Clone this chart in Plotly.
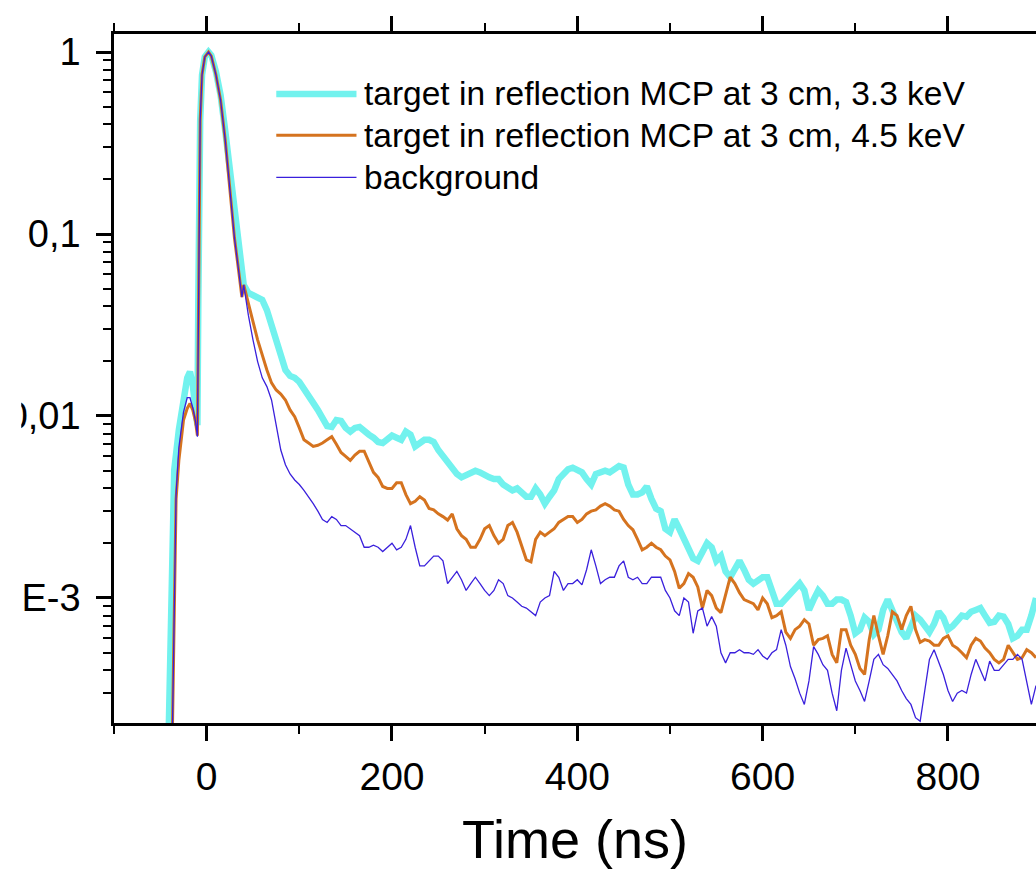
import plotly.graph_objects as go

# time axis (ns): rising edge / peak part, then the tail sampled every 5 ns
t_head_cyan = [-41, -39, -37, -35, -30, -25, -21, -18, -15, -12, -10, -9, -8, -7, -5, -2, 2, 5,
               10, 15, 20, 25, 30, 35]
t_head_other = [-37, -35, -33, -30, -25, -21, -18, -15, -12, -10, -9, -8, -7, -5, -2, 2, 5,
                10, 15, 20, 25, 30, 35, 38]
t_tail = [40, 45, 50, 55, 60, 65, 70, 75, 80, 85, 90, 95, 100, 105, 110, 115, 120, 125, 130, 135,
          140, 145, 150, 155, 160, 165, 170, 175, 180, 185, 190, 195, 200, 205, 210, 215, 220, 225,
          230, 235, 240, 245, 250, 255, 260, 265, 270, 275, 280, 285, 290, 295, 300, 305, 310, 315,
          320, 325, 330, 335, 340, 345, 350, 355, 360, 365, 370, 375, 380, 385, 390, 395, 400, 405,
          410, 415, 420, 425, 430, 435, 440, 445, 450, 455, 460, 465, 470, 475, 480, 485, 490, 495,
          500, 505, 510, 515, 520, 525, 530, 535, 540, 545, 550, 555, 560, 565, 570, 575, 580, 585,
          590, 595, 600, 605, 610, 615, 620, 625, 630, 635, 640, 645, 650, 655, 660, 665, 670, 675,
          680, 685, 690, 695, 700, 705, 710, 715, 720, 725, 730, 735, 740, 745, 750, 755, 760, 765,
          770, 775, 780, 785, 790, 795, 800, 805, 810, 815, 820, 825, 830, 835, 840, 845, 850, 855,
          860, 865, 870, 875, 880, 885, 890, 895]

# target in reflection, 3.3 keV
cyan_head = [0.00018, 0.00076, 0.0027, 0.00505, 0.0084, 0.0132, 0.0162, 0.0175, 0.0148, 0.0108,
             0.0089, 0.043, 0.154, 0.42, 0.75, 0.94, 1.0, 0.96, 0.78, 0.58, 0.37, 0.225, 0.127, 0.077]
cyan_tail = [0.0525, 0.0475, 0.0462, 0.045, 0.0434, 0.0382, 0.0316, 0.0253, 0.0203, 0.0179,
             0.0166, 0.0162, 0.0154, 0.0139, 0.0128, 0.0118, 0.0108, 0.0098, 0.0088, 0.0087,
             0.0095, 0.0094, 0.0086, 0.0082, 0.0086, 0.0087, 0.0082, 0.0079, 0.0076, 0.0072,
             0.0071, 0.0074, 0.0078, 0.0076, 0.0074, 0.0082, 0.0079, 0.0068, 0.0071, 0.0074,
             0.0074, 0.0072, 0.0065, 0.0060, 0.0056, 0.0052, 0.0048, 0.0046, 0.0047, 0.0049,
             0.0050, 0.0049, 0.0047, 0.0046, 0.0045, 0.0045, 0.0042, 0.0040, 0.0039, 0.0040,
             0.0038, 0.0036, 0.0036, 0.0040, 0.0037, 0.0033, 0.0036, 0.0039, 0.0045, 0.0048,
             0.0051, 0.0052, 0.0050, 0.0049, 0.0045, 0.0042, 0.0048, 0.0049, 0.0050, 0.0049,
             0.0051, 0.0053, 0.0052, 0.0042, 0.0037, 0.0037, 0.0038, 0.0041, 0.0035, 0.0031,
             0.0030, 0.0024, 0.0023, 0.0027, 0.0024, 0.0021, 0.0018, 0.00165, 0.0016, 0.0018,
             0.0020, 0.0019, 0.0016, 0.0017, 0.0014, 0.0013, 0.00146, 0.0016, 0.00143, 0.00126,
             0.0012, 0.00126, 0.0013, 0.0013, 0.0011, 0.00093, 0.00093, 0.00099, 0.00103, 0.0011,
             0.0012, 0.0011, 0.00086, 0.00098, 0.0011, 0.00103, 0.00093, 0.00093, 0.00098, 0.00098,
             0.00095, 0.0008, 0.00064, 0.00067, 0.00078, 0.00074, 0.00063, 0.00067, 0.00086, 0.00098,
             0.00084, 0.00074, 0.00065, 0.0006, 0.0007, 0.0008, 0.00076, 0.0007, 0.00065, 0.00072,
             0.00084, 0.00078, 0.00067, 0.0007, 0.00076, 0.0008, 0.00079, 0.00084, 0.00086, 0.00088,
             0.0008, 0.00073, 0.00074, 0.0008, 0.00079, 0.00072, 0.0006, 0.00062, 0.00067, 0.00067,
             0.0008, 0.001]

# target in reflection, 4.5 keV
orange_head = [0.00018, 0.00098, 0.0035, 0.0057, 0.0095, 0.011, 0.0117, 0.0108, 0.0093, 0.0078,
               0.04, 0.15, 0.42, 0.75, 0.94, 1.0, 0.95, 0.75, 0.545, 0.33, 0.175, 0.095, 0.06, 0.045]
orange_tail = [0.0525, 0.041, 0.033, 0.0262, 0.0216, 0.0179, 0.0152, 0.0139, 0.0132, 0.01225,
               0.0108, 0.0099, 0.0086, 0.0074, 0.0071, 0.0068, 0.0069, 0.0071, 0.0074, 0.0077,
               0.0070, 0.0063, 0.0060, 0.0057, 0.0061, 0.0064, 0.0064, 0.0056, 0.0049, 0.0046,
               0.0041, 0.0040, 0.0040, 0.0043, 0.0043, 0.0037, 0.0033, 0.0034, 0.0036, 0.00345,
               0.0031, 0.00305, 0.0029, 0.0028, 0.00268, 0.0029, 0.0024, 0.0022, 0.0021, 0.0019,
               0.0019, 0.0021, 0.0024, 0.0025, 0.0022, 0.0020, 0.0021, 0.0025, 0.0026, 0.0023,
               0.0019, 0.00162, 0.00158, 0.0021, 0.0023, 0.0022, 0.0023, 0.0024, 0.0026, 0.0027,
               0.0028, 0.0028, 0.0026, 0.0027, 0.0029, 0.0030, 0.00305, 0.0032, 0.0033, 0.0032,
               0.00305, 0.0030, 0.0027, 0.0025, 0.00237, 0.0021, 0.00184, 0.0019, 0.0020, 0.0019,
               0.00184, 0.0017, 0.00162, 0.0014, 0.00113, 0.0012, 0.00136, 0.0013, 0.00115, 0.00088,
               0.0011, 0.00103, 0.00088, 0.00083, 0.00103, 0.0013, 0.0012, 0.00107, 0.00098, 0.00095,
               0.00093, 0.00086, 0.0010, 0.00093, 0.00078, 0.0008, 0.00084, 0.00065, 0.0006, 0.00067,
               0.0007, 0.00076, 0.00072, 0.00055, 0.00059, 0.0006, 0.00062, 0.00049, 0.00044, 0.00067,
               0.00067, 0.00055, 0.00049, 0.00041, 0.00038, 0.00059, 0.0008, 0.00062, 0.00049, 0.00062,
               0.00084, 0.0008, 0.00067, 0.0008, 0.0009, 0.00067, 0.00057, 0.00059, 0.00058, 0.00055,
               0.00055, 0.0006, 0.00062, 0.00055, 0.00053, 0.0005, 0.00047, 0.00055, 0.0006, 0.00058,
               0.00053, 0.0005, 0.00046, 0.00044, 0.00046, 0.00055, 0.0005, 0.00046, 0.00047, 0.00052,
               0.0005, 0.00047]

# background
blue_head = [0.00018, 0.001, 0.0037, 0.0067, 0.0105, 0.0126, 0.0126, 0.0111, 0.0093, 0.0077,
             0.04, 0.15, 0.42, 0.75, 0.94, 1.0, 0.95, 0.75, 0.545, 0.33, 0.175, 0.095, 0.06, 0.045]
blue_tail = [0.0525, 0.0358, 0.0262, 0.0199, 0.0162, 0.0145, 0.01225, 0.0091, 0.0065, 0.0054,
             0.0048, 0.00445, 0.0042, 0.0039, 0.0036, 0.0033, 0.0030, 0.0027, 0.0026, 0.0028,
             0.0027, 0.0025, 0.0025, 0.0024, 0.0023, 0.0022, 0.0019, 0.0019, 0.00195, 0.0019,
             0.0018, 0.0019, 0.0020, 0.00184, 0.0019, 0.0021, 0.0025, 0.0019, 0.0015, 0.0015,
             0.0016, 0.0017, 0.0017, 0.0016, 0.0012, 0.0013, 0.0014, 0.00126, 0.0011, 0.0012,
             0.0013, 0.0012, 0.0011, 0.00103, 0.0011, 0.00126, 0.0012, 0.00103, 0.0010, 0.00095,
             0.0009, 0.00088, 0.00084, 0.0008, 0.00095, 0.0010, 0.00103, 0.0014, 0.0013, 0.0011,
             0.0012, 0.0012, 0.00126, 0.00118, 0.00143, 0.00184, 0.0015, 0.0012, 0.00126, 0.0013,
             0.0013, 0.0015, 0.0016, 0.0013, 0.00126, 0.0013, 0.0012, 0.0012, 0.0013, 0.0013,
             0.0013, 0.0011, 0.001, 0.00085, 0.0008, 0.001, 0.00095, 0.00064, 0.00085, 0.00088,
             0.0007, 0.00079, 0.0007, 0.0005, 0.00044, 0.0005, 0.0005, 0.00052, 0.0005, 0.0005,
             0.00049, 0.00052, 0.00048, 0.00046, 0.0005, 0.00052, 0.00067, 0.00055, 0.00042, 0.00036,
             0.0003, 0.00026, 0.00035, 0.00054, 0.00049, 0.00043, 0.0004, 0.0003, 0.00024, 0.0004,
             0.00053, 0.00043, 0.00035, 0.00031, 0.00027, 0.00035, 0.00046, 0.00049, 0.00043, 0.00041,
             0.00038, 0.00035, 0.00031, 0.00028, 0.00026, 0.00022, 0.00021, 0.00032, 0.00046, 0.00052,
             0.00045, 0.00038, 0.00031, 0.00027, 0.0003, 0.00031, 0.0003, 0.00038, 0.00046, 0.0004,
             0.00035, 0.00045, 0.0004, 0.0004, 0.00043, 0.00046, 0.00046, 0.00049, 0.00046, 0.00035,
             0.00026, 0.00033]

assert len(cyan_head) == len(t_head_cyan)
assert len(orange_head) == len(t_head_other) and len(blue_head) == len(t_head_other)
assert len(cyan_tail) == len(t_tail) and len(orange_tail) == len(t_tail) and len(blue_tail) == len(t_tail)

names = ["target in reflection MCP at 3 cm, 3.3 keV",
         "target in reflection MCP at 3 cm, 4.5 keV",
         "background"]

y_tickvals = [0.001, 0.01, 0.1, 1]
y_ticktext = ["1E-3", "0,01", "0,1", "1"]

FONT = "Liberation Sans, Arial, sans-serif"
colors = ["#72f2ee", "#d5731f", "#3a20dc"]
widths = [6.5, 3, 1.3]

fig = go.Figure()
fig.add_trace(go.Scatter(x=t_head_cyan + t_tail, y=cyan_head + cyan_tail, mode="lines",
                         name=names[0], line=dict(color=colors[0], width=widths[0])))
fig.add_trace(go.Scatter(x=t_head_other + t_tail, y=orange_head + orange_tail, mode="lines",
                         name=names[1], line=dict(color=colors[1], width=widths[1])))
fig.add_trace(go.Scatter(x=t_head_other + t_tail, y=blue_head + blue_tail, mode="lines",
                         name=names[2], line=dict(color=colors[2], width=widths[2])))

fig.update_layout(
    width=1036, height=869,
    margin=dict(l=112, r=0, t=34, b=146),
    paper_bgcolor="white", plot_bgcolor="white",
    font=dict(family=FONT, color="black"),
    showlegend=False,
)
fig.update_xaxes(range=[-100, 895], tick0=0, dtick=200,
                 showline=True, linecolor="black", linewidth=2.5, mirror="ticks",
                 ticks="outside", ticklen=15, tickwidth=2.5, tickcolor="black",
                 minor=dict(dtick=100, ticks="outside", ticklen=8, tickwidth=2, tickcolor="black"),
                 showgrid=False, zeroline=False, ticklabelstandoff=2,
                 tickfont=dict(size=39, family=FONT),
                 title=dict(text="Time (ns)", font=dict(size=54, family=FONT), standoff=28))
fig.update_yaxes(type="log", range=[-3.687, 0.099],
                 tickmode="array", tickvals=y_tickvals, ticktext=y_ticktext,
                 showline=True, linecolor="black", linewidth=2.5,
                 ticks="outside", ticklen=15, tickwidth=2.5, tickcolor="black",
                 minor=dict(tickmode="array",
                            tickvals=[m * 10.0 ** e for e in range(-4, 1) for m in range(2, 10)],
                            ticks="outside", ticklen=8, tickwidth=2, tickcolor="black"),
                 showgrid=False, zeroline=False, ticklabelstandoff=8,
                 tickfont=dict(size=38, family=FONT))

# legend drawn as in the source: long sample lines, text to their right
legend_rows = [0.913, 0.853, 0.792]
for name, col, w, yy in zip(names, colors, widths, legend_rows):
    fig.add_shape(type="line", xref="paper", yref="paper", x0=0.176, x1=0.263, y0=yy, y1=yy,
                  line=dict(color=col, width=w))
    fig.add_annotation(xref="paper", yref="paper", x=0.2695, y=yy, text=name, showarrow=False,
                       xanchor="left", yanchor="middle", font=dict(size=33.5, family=FONT))

# the source picture is cut on the left, hiding the start of the widest labels
fig.add_shape(type="rect", xref="paper", yref="paper", x0=-0.2, x1=-0.1006, y0=-0.3, y1=1.1,
              fillcolor="white", line=dict(width=0), layer="above")

fig.write_html("out.html", config={"displayModeBar": False},
               post_script="document.body.style.margin = '0';")
